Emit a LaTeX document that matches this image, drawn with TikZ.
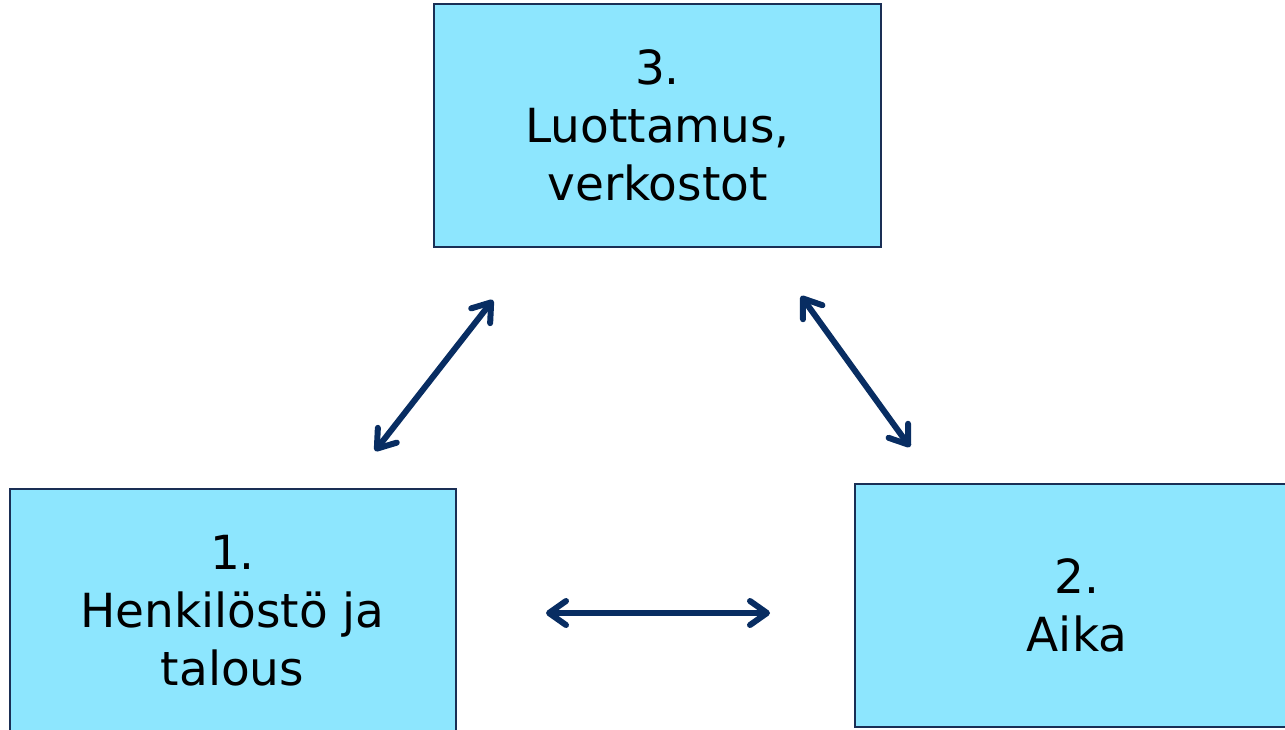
\documentclass[tikz,border=0pt]{standalone}
\usepackage{fontspec}
\setmainfont{DejaVu Sans}
\usetikzlibrary{arrows.meta}
\definecolor{boxfill}{HTML}{8DE6FE}
\definecolor{boxline}{HTML}{1A2F55}
\definecolor{arrowcol}{HTML}{082D62}
\tikzset{
  box/.style={draw=boxline, line width=2pt, fill=boxfill, inner sep=0pt,
    align=center, font=\fontsize{47}{58}\selectfont, text=black},
  link/.style={draw=arrowcol, line width=6pt, line cap=round,
    {Straight Barb[round, length=17pt, width=24pt]}-{Straight Barb[round, length=17pt, width=24pt]}}
}
\begin{document}
\begin{tikzpicture}[x=1pt, y=-1pt]
\useasboundingbox (0,0) rectangle (1285,729);
\clip (0,0) rectangle (1285,729);
\node[box, minimum width=447pt, minimum height=243pt] (top) at (657.5,125.5) {3.\\Luottamus,\\verkostot};
\node[box, minimum width=446pt, minimum height=244pt] (left) at (232.5,611) {1.\\Henkilöstö ja\\talous};
\node[box, minimum width=444pt, minimum height=243pt] (right) at (1077,605.5) {2.\\Aika};
\coordinate (a1) at (375,451);
\coordinate (a2) at (493,300);
\coordinate (b1) at (801,296);
\coordinate (b2) at (910,447);
\coordinate (c1) at (546,613);
\coordinate (c2) at (770,613);
\draw[link] (a1) -- (a2);
\draw[link] (b1) -- (b2);
\draw[link] (c1) -- (c2);
\end{tikzpicture}
\end{document}
